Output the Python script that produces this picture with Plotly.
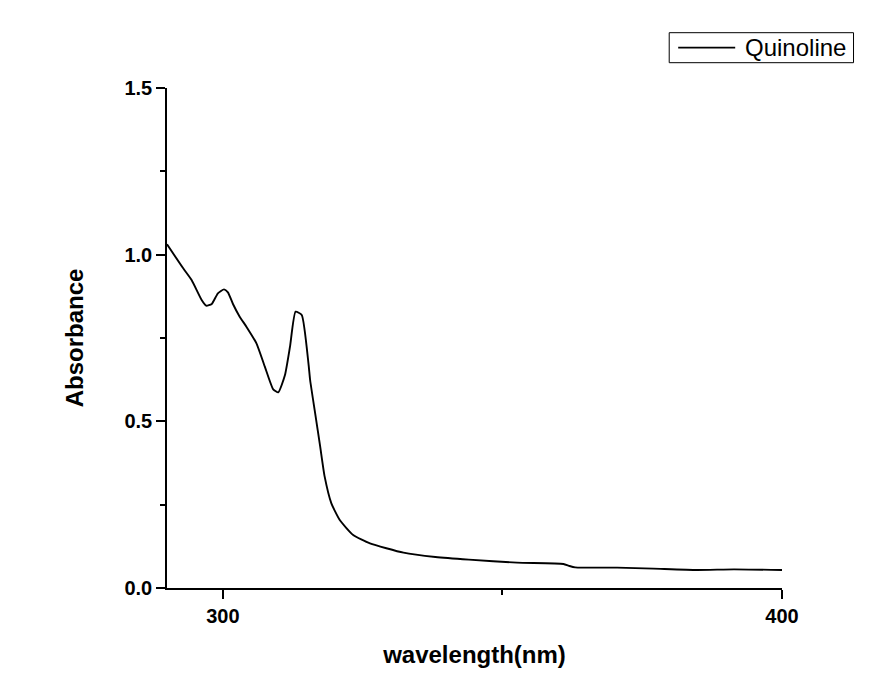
import plotly.graph_objects as go

wavelength = [290.0, 292.9, 294.4, 296.2, 297.0, 298.0, 299.1, 300.2, 300.9, 301.8,
              303.0, 304.2, 306.0, 307.5, 309.0, 309.9, 311.1, 312.0, 313.0, 314.1,
              315.3, 315.6, 316.5, 317.4, 318.2, 319.4, 320.9, 323.3, 326.3, 332.3,
              338.0, 344.0, 352.6, 360.9, 362.0, 363.0, 370.5, 377.0, 384.8, 391.4, 400.0]
absorbance = [1.031, 0.959, 0.924, 0.864, 0.847, 0.852, 0.884, 0.896, 0.887, 0.852,
              0.814, 0.784, 0.734, 0.664, 0.596, 0.587, 0.639, 0.724, 0.829, 0.819,
              0.674, 0.624, 0.524, 0.424, 0.334, 0.254, 0.204, 0.159, 0.134, 0.106,
              0.093, 0.085, 0.076, 0.072, 0.066, 0.062, 0.061, 0.058, 0.054, 0.056, 0.054]
series_name = "Quinoline"
x_ticks = [300, 400]
y_ticks = [0.0, 0.5, 1.0, 1.5]

FONT = "Liberation Sans, Arial, sans-serif"

fig = go.Figure()
fig.add_trace(go.Scatter(x=wavelength, y=absorbance, mode="lines", name=series_name,
                         line=dict(color="black", width=1.9, shape="spline", smoothing=0.5),
                         showlegend=False))

# legend drawn as box + sample line + text (paper coordinates)
fig.add_shape(type="rect", xref="paper", yref="paper", x0=0.8166, x1=1.1163, y0=1.0506, y1=1.1106,
              line=dict(color="black", width=1), fillcolor="white", layer="above")
fig.add_shape(type="line", xref="paper", yref="paper", x0=0.8312, x1=0.9239, y0=1.0806, y1=1.0806,
              line=dict(color="black", width=1.8), layer="above")
fig.add_annotation(xref="paper", yref="paper", x=0.9368, y=1.0806, xanchor="left", yanchor="middle",
                   text=series_name, showarrow=False,
                   font=dict(family=FONT, size=24, color="black"))

fig.update_layout(
    width=893, height=695,
    margin=dict(l=159, r=119, t=80, b=115),
    paper_bgcolor="white", plot_bgcolor="white",
    font=dict(family=FONT, color="black"),
    showlegend=False,
    xaxis=dict(range=[290, 400], tickvals=x_ticks, ticktext=[str(v) for v in x_ticks],
               showgrid=False, zeroline=False, showline=True, linecolor="black", linewidth=1.5,
               ticks="outside", ticklen=9, tickwidth=1.5, tickcolor="black",
               minor=dict(ticks="outside", ticklen=5, tickwidth=1.5, tickcolor="black",
                          tickvals=[350], showgrid=False),
               tickfont=dict(family=FONT, size=20, weight="bold"),
               title=dict(text="wavelength(nm)", font=dict(family=FONT, size=24, weight="bold"),
                          standoff=20)),
    yaxis=dict(range=[0, 1.5], tickvals=y_ticks, ticktext=[f"{v:.1f}" for v in y_ticks],
               showgrid=False, zeroline=False, showline=True, linecolor="black", linewidth=1.5,
               ticks="outside", ticklen=9, tickwidth=1.5, tickcolor="black",
               minor=dict(ticks="outside", ticklen=5, tickwidth=1.5, tickcolor="black",
                          tickvals=[0.25, 0.75, 1.25], showgrid=False),
               tickfont=dict(family=FONT, size=20, weight="bold"),
               title=dict(text="Absorbance", font=dict(family=FONT, size=24, weight="bold"),
                          standoff=34)),
)

fig.write_html("out.html")
